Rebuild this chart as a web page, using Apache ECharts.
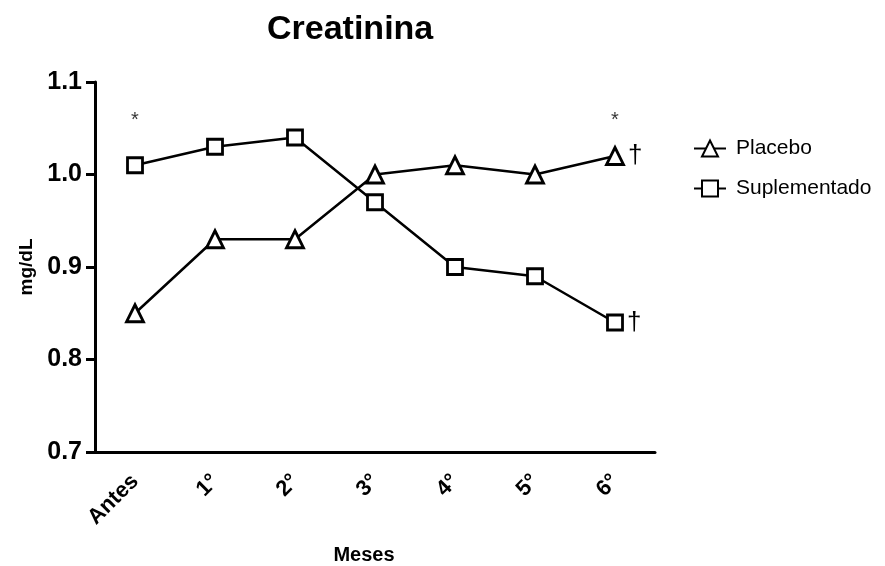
<!DOCTYPE html>
<html>
<head>
<meta charset="utf-8">
<script src="https://cdn.jsdelivr.net/npm/echarts@6/dist/echarts.min.js"></script>
<style>
  html, body { margin: 0; padding: 0; background: #fff; }
  #chart { width: 885px; height: 566px; }
</style>
</head>
<body>
<div id="chart"></div>
<script>
// Monthly creatinine (mg/dL) by group
const months = ['Antes', '1°', '2°', '3°', '4°', '5°', '6°'];
const placebo = [0.85, 0.93, 0.93, 1.00, 1.01, 1.00, 1.02];
const suplementado = [1.01, 1.03, 1.04, 0.97, 0.90, 0.89, 0.84];
// significance marks: '*' between groups, '†' vs baseline
const starMonths = ['Antes', '6°'];
const starLevel = 1.058;
const daggerMonths = ['6°'];
const yTicks = [0.7, 0.8, 0.9, 1.0, 1.1];

const FONT = 'Arial, "Liberation Sans", sans-serif';

function withDagger(values) {
  return values.map((v, i) => {
    if (daggerMonths.indexOf(months[i]) >= 0) {
      return {
        value: v,
        label: {
          show: true, position: 'right', distance: 3, formatter: '†',
          fontFamily: FONT, fontSize: 26, color: '#000'
        }
      };
    }
    return v;
  });
}

const chart = echarts.init(document.getElementById('chart'), null, { renderer: 'canvas' });

chart.setOption({
  animation: false,
  backgroundColor: '#fff',
  title: {
    text: 'Creatinina',
    left: 262, top: 8,
    textStyle: { fontFamily: FONT, fontSize: 34, fontWeight: 'bold', color: '#000' }
  },
  legend: {
    left: 688, top: 133, orient: 'vertical',
    itemWidth: 32, itemHeight: 20, itemGap: 19,
    data: ['Placebo', 'Suplementado'],
    textStyle: { fontFamily: FONT, fontSize: 21, color: '#000', padding: [0, 0, 0, 5] }
  },
  grid: {
    left: 95, right: 230, top: 82, bottom: 114,
    containLabel: false,
    outerBoundsMode: 'none'
  },
  xAxis: {
    type: 'category',
    data: months,
    boundaryGap: true,
    name: 'Meses',
    nameLocation: 'middle',
    nameGap: 93,
    nameTextStyle: {
      fontFamily: FONT, fontSize: 20, fontWeight: 'bold', color: '#000',
      padding: [0, 22, 0, 0]
    },
    axisLine: { lineStyle: { color: '#000', width: 3 } },
    axisTick: { alignWithLabel: true, length: 9, lineStyle: { color: '#000', width: 3 } },
    axisLabel: {
      rotate: 45, margin: 26, interval: 0,
      fontFamily: FONT, fontSize: 22, fontWeight: 'bold', color: '#000'
    },
    splitLine: { show: false }
  },
  yAxis: {
    type: 'value',
    min: 0.7, max: 1.1, interval: 0.1,
    name: 'mg/dL',
    nameLocation: 'middle',
    nameGap: 56,
    nameTextStyle: { fontFamily: FONT, fontSize: 19, fontWeight: 'bold', color: '#000' },
    axisLine: { show: true, lineStyle: { color: '#000', width: 3 } },
    axisTick: { show: true, length: 9, lineStyle: { color: '#000', width: 3 } },
    axisLabel: {
      margin: 13,
      fontFamily: FONT, fontSize: 25, fontWeight: 'bold', color: '#000',
      formatter: v => yTicks.some(t => Math.abs(t - v) < 1e-6) ? v.toFixed(1) : ''
    },
    splitLine: { show: false }
  },
  series: [
    {
      name: 'Placebo',
      type: 'line',
      data: withDagger(placebo),
      symbol: 'triangle',
      symbolSize: 17,
      lineStyle: { color: '#000', width: 2.5 },
      itemStyle: { color: '#fff', borderColor: '#000', borderWidth: 2.8 },
      z: 3
    },
    {
      name: 'Suplementado',
      type: 'line',
      data: withDagger(suplementado),
      symbol: 'rect',
      symbolSize: 15,
      lineStyle: { color: '#000', width: 2.5 },
      itemStyle: { color: '#fff', borderColor: '#000', borderWidth: 2.8 },
      z: 3
    },
    {
      name: 'sig',
      type: 'scatter',
      data: starMonths.map(m => [m, starLevel]),
      symbolSize: 0,
      silent: true,
      label: {
        show: true, position: 'inside', formatter: '*',
        fontFamily: FONT, fontSize: 20, color: '#000'
      }
    }
  ]
});
</script>
</body>
</html>
